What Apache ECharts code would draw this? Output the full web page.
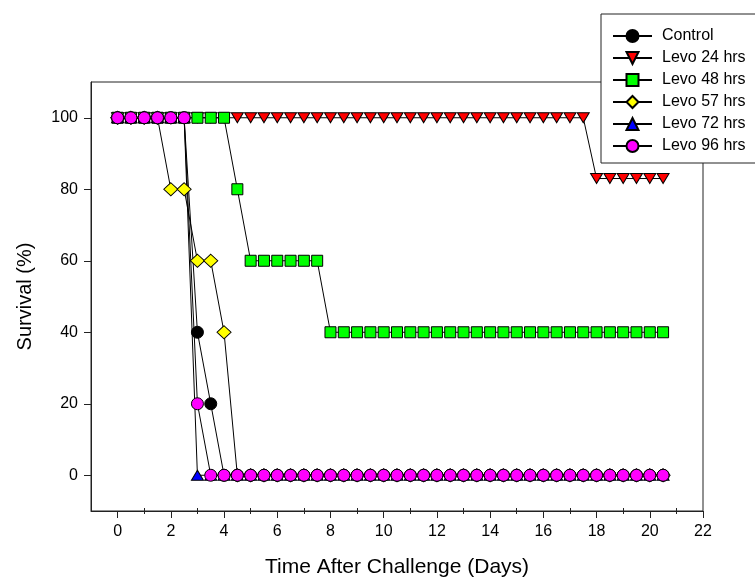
<!DOCTYPE html>
<html><head><meta charset="utf-8">
<script src="https://cdn.jsdelivr.net/npm/echarts@6/dist/echarts.min.js"></script>
<style>html,body{margin:0;padding:0;background:#fff}#c{width:755px;height:581px}</style>
</head><body><div id="c"></div>
<script>
const days = [0,0.5,1,1.5,2,2.5,3,3.5,4,4.5,5,5.5,6,6.5,7,7.5,8,8.5,9,9.5,10,10.5,11,11.5,12,12.5,13,13.5,14,14.5,15,15.5,16,16.5,17,17.5,18,18.5,19,19.5,20,20.5];
const control = [100,100,100,100,100,100,40,20,0,0, 0,0,0,0,0,0,0,0,0,0, 0,0,0,0,0,0,0,0,0,0, 0,0,0,0,0,0,0,0,0,0, 0,0];
const levo24 = [100,100,100,100,100,100,100,100,100,100, 100,100,100,100,100,100,100,100,100,100, 100,100,100,100,100,100,100,100,100,100, 100,100,100,100,100,100,83,83,83,83, 83,83];
const levo48 = [100,100,100,100,100,100,100,100,100,80, 60,60,60,60,60,60,40,40,40,40, 40,40,40,40,40,40,40,40,40,40, 40,40,40,40,40,40,40,40,40,40, 40,40];
const levo57 = [100,100,100,100,80,80,60,60,40,0, 0,0,0,0,0,0,0,0,0,0, 0,0,0,0,0,0,0,0,0,0, 0,0,0,0,0,0,0,0,0,0, 0,0];
const levo72 = [100,100,100,100,100,100,0,0,0,0, 0,0,0,0,0,0,0,0,0,0, 0,0,0,0,0,0,0,0,0,0, 0,0,0,0,0,0,0,0,0,0, 0,0];
const levo96 = [100,100,100,100,100,100,20,0,0,0, 0,0,0,0,0,0,0,0,0,0, 0,0,0,0,0,0,0,0,0,0, 0,0,0,0,0,0,0,0,0,0, 0,0];
const seriesNames = ['Control','Levo 24 hrs','Levo 48 hrs','Levo 57 hrs','Levo 72 hrs','Levo 96 hrs'];
const xTickLabels = [0,2,4,6,8,10,12,14,16,18,20,22];
const xMinorTicks = [1,3,5,7,9,11,13,15,17,19,21];
const yTickLabels = [0,20,40,60,80,100];

const FONT = '"Liberation Sans", Arial, sans-serif';
const AX = '#222';
const styles = [
  {data: control, symbol: 'circle', size: 12, color: '#000000'},
  {data: levo24, symbol: 'path://M0,0L10,0L5,9Z', size: [12, 10], color: '#ff0000'},
  {data: levo48, symbol: 'rect', size: 11, color: '#00ff00'},
  {data: levo57, symbol: 'diamond', size: [14, 13], color: '#ffff00'},
  {data: levo72, symbol: 'triangle', size: [12, 10], color: '#0000ff'},
  {data: levo96, symbol: 'circle', size: 12, color: '#ff00ff'}
];

const chart = echarts.init(document.getElementById('c'));
const minorAxis = (inside) => ({
  type: 'value', min: -1, max: 22, position: 'bottom',
  axisLine: {show: false, onZero: false},
  axisTick: {show: true, inside: inside, length: 3, customValues: xMinorTicks, lineStyle: {color: AX}},
  axisLabel: {show: false}, splitLine: {show: false}
});
chart.setOption({
  animation: false,
  backgroundColor: '#fff',
  grid: {left: 91, right: 52, top: 82, bottom: 70, show: true, borderColor: AX, borderWidth: 1, outerBoundsMode: 'none'},
  graphic: [{
    type: 'rect', z: 3, silent: true,
    shape: {x: 601, y: 14, width: 220, height: 149},
    style: {fill: '#fff', stroke: AX, lineWidth: 1}
  }],
  legend: {
    orient: 'vertical', left: 601, top: 14,
    padding: [14, 10, 13, 11],
    itemWidth: 39, itemHeight: 15, itemGap: 6,
    backgroundColor: 'transparent', borderWidth: 0, z: 5,
    textStyle: {fontFamily: FONT, fontSize: 16, color: '#000', padding: [0, 0, 0, 5]},
    data: seriesNames
  },
  xAxis: [{
    type: 'value', min: -1, max: 22, position: 'bottom',
    name: 'Time After Challenge (Days)', nameLocation: 'middle', nameGap: 46,
    nameTextStyle: {fontFamily: FONT, fontSize: 21, color: '#000'},
    axisLine: {show: true, onZero: false, lineStyle: {color: AX, width: 1}},
    axisTick: {show: true, length: 7, customValues: xTickLabels, lineStyle: {color: AX}},
    axisLabel: {customValues: xTickLabels, margin: 13, fontFamily: FONT, fontSize: 16, color: '#000'},
    splitLine: {show: false}
  }, minorAxis(false), minorAxis(true)],
  yAxis: {
    type: 'value', min: -10, max: 110,
    name: 'Survival (%)', nameLocation: 'middle', nameGap: 56,
    nameTextStyle: {fontFamily: FONT, fontSize: 20, color: '#000'},
    axisLine: {show: true, onZero: false, lineStyle: {color: AX, width: 1}},
    axisTick: {show: true, length: 7, customValues: yTickLabels, lineStyle: {color: AX}},
    axisLabel: {customValues: yTickLabels, margin: 13, fontFamily: FONT, fontSize: 16, color: '#000'},
    splitLine: {show: false}
  },
  series: styles.map((s, k) => ({
    name: seriesNames[k], type: 'line', xAxisIndex: 0,
    data: days.map((d, i) => [d, s.data[i]]),
    symbol: s.symbol, symbolSize: s.size, showSymbol: true, showAllSymbol: true,
    lineStyle: {color: '#000', width: 1},
    itemStyle: {color: s.color, borderColor: '#000', borderWidth: 1},
    emphasis: {disabled: true},
    clip: false
  }))
});
</script></body></html>
